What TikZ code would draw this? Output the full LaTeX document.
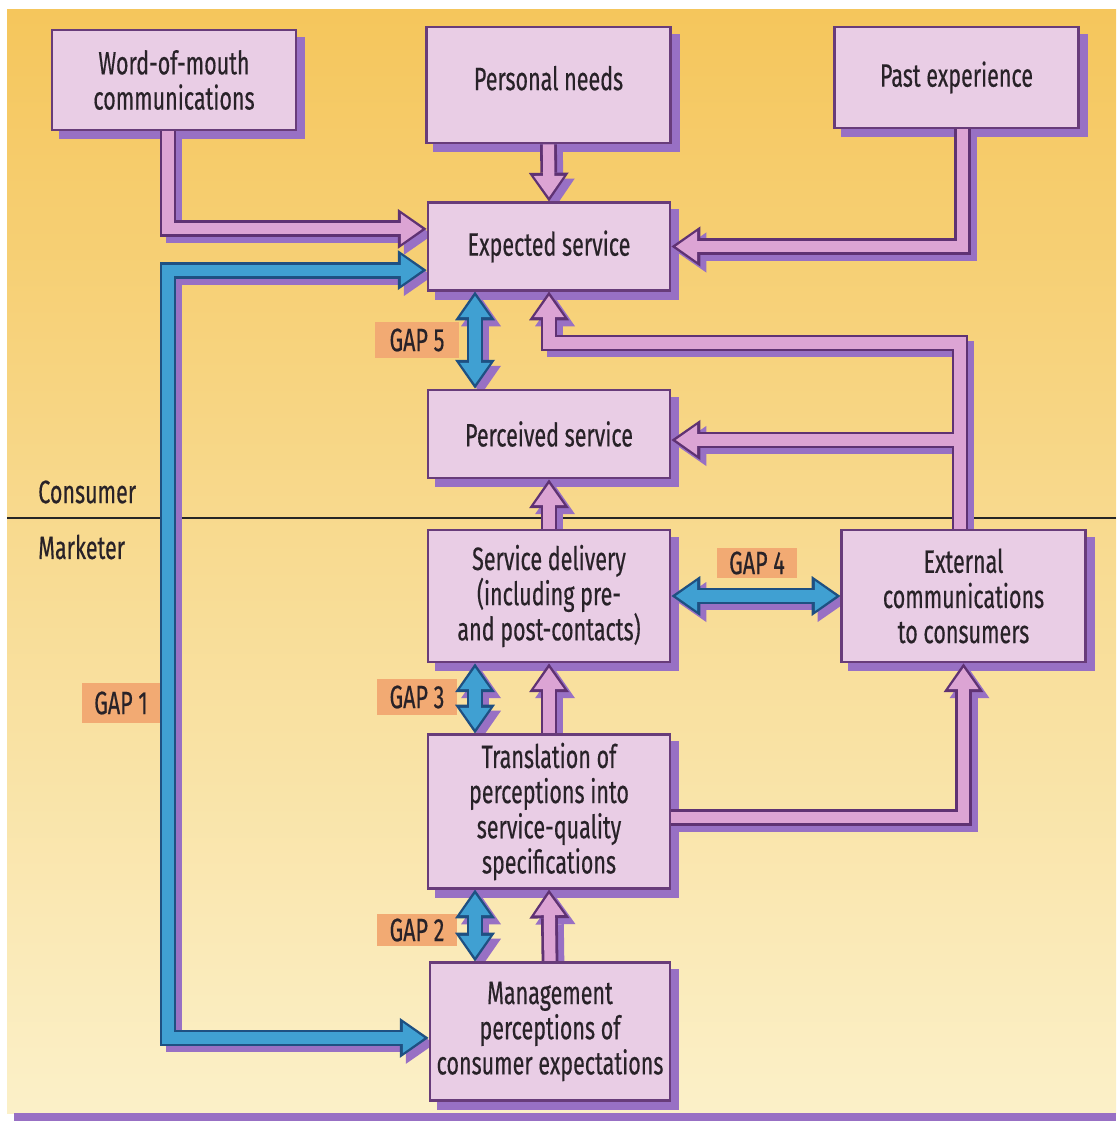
\documentclass[tikz,border=0pt]{standalone}
\usepackage{fontspec}
\setmainfont[FakeStretch=0.665, FakeBold=0.4]{Fira Sans}
\usetikzlibrary{arrows.meta}

\pgfdeclarelayer{bg}
\pgfdeclarelayer{boxsh}
\pgfdeclarelayer{arrsh}
\pgfdeclarelayer{arrout}
\pgfdeclarelayer{arrin}
\pgfsetlayers{bg,boxsh,arrsh,arrout,arrin,main}

\definecolor{bgtop}{RGB}{245,198,92}
\definecolor{bgmid}{RGB}{248,219,125}
\definecolor{bgbot}{RGB}{251,240,200}
\definecolor{boxfill}{RGB}{233,205,229}
\definecolor{boxline}{RGB}{104,60,122}
\definecolor{shadecol}{RGB}{152,112,196}
\definecolor{pinkfill}{RGB}{220,164,212}
\definecolor{pinkline}{RGB}{95,50,115}
\definecolor{bluefill}{RGB}{64,160,210}
\definecolor{blueline}{RGB}{30,80,130}
\definecolor{gapfill}{RGB}{242,170,115}
\definecolor{ink}{RGB}{40,34,40}

\tikzset{
  txt/.style={font=\fontsize{23}{25}\selectfont, text=ink},
  box/.style={txt, draw=boxline, line width=0.07cm, fill=boxfill, align=center, inner sep=0pt},
  gaplabel/.style={txt, fill=gapfill, inner sep=0pt},
  side/.style={txt, anchor=west, inner sep=0pt},
  divider/.style={draw=black!85, line width=0.05cm},
  tip single outer/.style={-{Triangle[width=1cm,length=0.72cm,line width=0pt]}},
  tip single inner/.style={-{Triangle[width=0.75cm,length=0.53cm,line width=0pt]}, shorten >=0.11cm},
  tip double outer/.style={{Triangle[width=1cm,length=0.72cm,line width=0pt]}-{Triangle[width=1cm,length=0.72cm,line width=0pt]}},
  tip double inner/.style={{Triangle[width=0.75cm,length=0.53cm,line width=0pt]}-{Triangle[width=0.75cm,length=0.53cm,line width=0pt]}, shorten >=0.11cm, shorten <=0.11cm},
  pink shade/.style={draw=shadecol, line width=0.42cm, transform canvas={shift={(0.15cm,-0.15cm)}}},
  pink rim/.style={draw=pinkline, line width=0.42cm},
  pink core/.style={draw=pinkfill, line width=0.28cm},
  blue shade/.style={draw=shadecol, line width=0.42cm, transform canvas={shift={(0.15cm,-0.15cm)}}},
  blue rim/.style={draw=blueline, line width=0.42cm},
  blue core/.style={draw=bluefill, line width=0.28cm},
}

% broad outlined arrow with drop shadow: #1 colour set, #2 single/double, #3 path
\newcommand\widearrow[3]{%
  \begin{pgfonlayer}{arrsh}\draw[#1 shade, tip #2 outer] #3;\end{pgfonlayer}%
  \begin{pgfonlayer}{arrout}\draw[#1 rim, tip #2 outer] #3;\end{pgfonlayer}%
  \begin{pgfonlayer}{arrin}\draw[#1 core, tip #2 inner] #3;\end{pgfonlayer}}

\begin{document}
\begin{tikzpicture}[x=0.025cm, y=-0.025cm]
\useasboundingbox (0,0) rectangle (1116,1129);

% page, background and consumer/marketer divide
\begin{pgfonlayer}{bg}
  \fill[white] (0,0) rectangle (1116,1129);
  \shade[top color=bgtop, middle color=bgmid, bottom color=bgbot] (7,10) rectangle (1116,1113);
  \fill[shadecol] (14,1113) rectangle (1116,1121);
  \draw[divider] (7,518) -- (1116,518);
\end{pgfonlayer}

% boxes
\node[box, minimum width=6.1cm,  minimum height=2.5cm]  (wom)   at (174,80)    {Word-of-mouth\\communications};
\node[box, minimum width=6.08cm, minimum height=2.9cm, text depth=0.35cm] (pers) at (548.5,85) {Personal needs};
\node[box, minimum width=6.08cm, minimum height=2.52cm] (past)  at (956.5,77.5) {Past experience};
\node[box, minimum width=6.05cm, minimum height=2.18cm] (exp)   at (549,246.5) {Expected service};
\node[box, minimum width=6.05cm, minimum height=2.2cm]  (perc)  at (549,434)   {Perceived service};
\node[box, minimum width=6.05cm, minimum height=3.3cm]  (deliv) at (549,596)   {Service delivery\\(including pre-\\and post-contacts)};
\node[box, minimum width=6.08cm, minimum height=3.3cm]  (ext)   at (963.5,596) {External\\communications\\to consumers};
\node[box, minimum width=6.05cm, minimum height=3.83cm] (trans) at (549,811.5) {Translation of\\perceptions into\\service-quality\\specifications};
\node[box, minimum width=6.0cm,  minimum height=3.43cm] (mgmt)  at (550,1031.5) {Management\\perceptions of\\consumer expectations};

% box shadows and gap labels
\begin{pgfonlayer}{boxsh}
  \foreach \b in {wom,pers,past,exp,perc,deliv,ext,trans,mgmt}
    \fill[shadecol] ([shift={(0.2cm,-0.2cm)}]\b.north west) rectangle ([shift={(0.2cm,-0.2cm)}]\b.south east);
  \node[gaplabel, minimum width=2.1cm,  minimum height=0.9cm]  (gap5) at (417,340) {GAP 5};
  \node[gaplabel, minimum width=2.0cm,  minimum height=0.75cm] (gap4) at (757,563) {GAP 4};
  \node[gaplabel, minimum width=2.0cm,  minimum height=0.92cm] (gap3) at (417,697) {GAP 3};
  \node[gaplabel, minimum width=2.0cm,  minimum height=0.78cm] (gap2) at (417,930) {GAP 2};
  \node[gaplabel, minimum width=1.95cm, minimum height=1.0cm]  (gap1) at (121,703) {GAP 1};
\end{pgfonlayer}

\node[side] (cons) at (38,492) {Consumer};
\node[side] (mark) at (38,547) {Marketer};

% lanes and turning points
\coordinate (gapX)  at (475,0);
\coordinate (laneX) at (168,0);
\coordinate (extY)  at (0,343);
\coordinate (brY)   at (0,440);
\coordinate (extUp) at ([xshift=-0.09cm]ext.north);
\coordinate (g1b)   at ([yshift=-0.16cm]mgmt.west);

% consumer-side influences
\widearrow{pink}{single}{([xshift=-0.15cm]wom.south) |- ([yshift=0.44cm]exp.west)}
\widearrow{pink}{single}{(pers.south) -- (exp.north)}
\widearrow{pink}{single}{([xshift=0.14cm]past.south) |- (exp.east)}
\widearrow{pink}{single}{(extUp) |- (exp.south |- extY) -- (exp.south)}
\widearrow{pink}{single}{(extUp |- brY) -- (perc.east |- brY)}

% marketer-side flow
\widearrow{pink}{single}{(deliv.north) -- (perc.south)}
\widearrow{pink}{single}{(trans.north) -- (deliv.south)}
\widearrow{pink}{single}{([yshift=-0.14cm]trans.east) -| (ext.south)}
\widearrow{pink}{single}{(mgmt.north) -- (trans.south)}

% gaps
\widearrow{blue}{double}{(exp.south -| gapX) -- (perc.north -| gapX)}
\widearrow{blue}{double}{(deliv.east) -- (ext.west)}
\widearrow{blue}{double}{(deliv.south -| gapX) -- (trans.north -| gapX)}
\widearrow{blue}{double}{(trans.south -| gapX) -- (mgmt.north -| gapX)}
\widearrow{blue}{double}{([yshift=-0.59cm]exp.west) -| (laneX |- g1b) -- (g1b)}
\end{tikzpicture}
\end{document}
